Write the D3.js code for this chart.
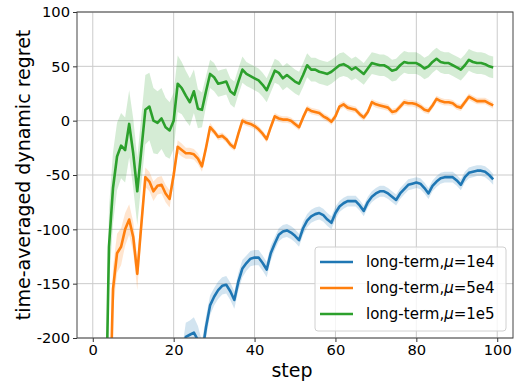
<!DOCTYPE html>
<html>
<head>
<meta charset="utf-8">
<script src="https://cdn.jsdelivr.net/npm/d3@7"></script>
<style>
body{margin:0;background:#fff;}
svg{font-family:"DejaVu Sans",sans-serif;}
</style>
</head>
<body>
<svg id="chart" width="516" height="386"></svg>
<script>
// steps 1..99
const steps=d3.range(1,100);
const labels=["long-term,μ=1e4","long-term,μ=5e4","long-term,μ=1e5"];
const colors=["#1f77b4","#ff7f0e","#2ca02c"];
const xTicks=[0,20,40,60,80,100];
const yTicks=[100,50,0,-50,-100,-150,-200];

const blueMean=[-5000,-2600,-1800,-1400,-1150,-980,-850,-750,-670,-600,
 -540,-490,-450,-410,-380,-350,-320,-300,-280,-262,
 -245,-225,-199,-197,-195,-202,-215,-190,-170,-162,
 -156,-152,-151,-157,-165,-148,-136,-131,-127,-126,
 -126,-131,-137,-122,-113,-105,-102,-101,-103,-106,
 -110,-99,-92,-88,-86,-85,-87,-91,-94,-85,
 -79,-76,-74,-74,-74,-78,-83,-75,-70,-67,
 -65,-65,-67,-70,-73,-67,-63,-59,-58,-57,
 -58,-62,-67,-60,-56,-53,-52,-52,-52,-55,
 -59,-52,-48,-47,-46,-46,-47,-50,-54];
const blueBand=[40,40,40,40,40,40,40,40,40,40,
 30,30,30,30,25,25,20,20,16,15,
 14,13,13,13,14,13,12,10,9,8,
 8,8,8,8,8,8,8,7,7,7,
 7,7,7,7,6,6,6,6,6,6,
 6,6,6,6,6,6,6,6,6,6,
 5,5,5,5,5,5,5,5,5,5,
 5,5,5,5,5,5,5,5,5,5,
 5,5,5,5,5,5,5,5,5,5,
 5,5,5,5,5,5,5,5,5];

const orangeMean=[-5000,-2000,-800,-305,-155,-122,-116,-100,-91,-107,
 -141,-96,-52,-56,-65,-60,-59,-67,-72,-50,
 -24,-27,-30,-30,-31,-35,-42,-25,-6,-10,
 -15,-14,-17,-22,-25,-12,0,-2,-3,-5,
 -8,-12,-17,-6,4,2,1,1,0,-3,
 -6,3,11,9,8,7,4,2,-1,4,
 13,15,12,11,10,6,3,8,17,15,
 14,13,12,8,9,13,17,16,16,15,
 13,10,9,14,20,18,17,17,16,13,
 12,17,22,20,18,18,18,16,14];
const orangeBand=[20,20,20,20,20,18,17,15,14,14,
 15,12,9,9,9,8,8,8,8,7,
 6,6,5,5,5,5,5,4,4,3,
 3,3,3,3,3,3,3,3,3,3,
 3,3,3,3,3,3,3,3,3,3,
 3,3,3,3,3,3,3,3,3,3,
 3,3,3,3,3,3,3,3,3,3,
 3,3,3,3,3,3,3,3,3,3,
 3,3,3,3,3,3,3,3,3,3,
 3,3,3,3,3,3,3,3,3];

const greenMean=[-2500,-1000,-326,-116,-62,-33,-23,-27,-3,-30,
 -65,-27,10,13,0,-2,2,-6,-9,0,
 34,30,23,17,27,11,10,27,43,40,
 34,35,36,27,24,36,47,43,41,39,
 37,33,28,37,46,44,39,42,39,36,
 34,42,51,47,47,45,44,43,45,48,
 51,52,50,47,49,46,43,48,53,52,
 51,51,49,46,47,51,54,53,53,53,
 51,48,50,54,57,54,53,53,51,49,
 47,51,56,54,53,53,52,50,49];
const greenBand=[40,40,40,35,33,31,30,30,31,32,
 31,31,32,31,30,29,28,27,26,26,
 26,24,23,22,20,18,16,14,13,13,
 12,12,12,12,12,12,12,11,11,11,
 11,11,11,11,11,11,11,11,11,11,
 11,11,11,11,11,11,11,11,11,11,
 11,11,10,10,10,10,10,10,10,10,
 10,10,10,10,10,10,10,10,10,10,
 10,10,10,10,10,10,10,10,10,10,
 10,10,10,10,10,10,10,10,10];

const series=[
  {mean:blueMean,band:blueBand},
  {mean:orangeMean,band:orangeBand},
  {mean:greenMean,band:greenBand}
];

const svg=d3.select("#chart");
const margin={top:12,right:3,bottom:48,left:77};
const width=+svg.attr("width")-margin.left-margin.right;
const height=+svg.attr("height")-margin.top-margin.bottom;
const g=svg.append("g").attr("transform",`translate(${margin.left},${margin.top})`);

const x=d3.scaleLinear().domain([-3.9,103.9]).range([0,width]);
const y=d3.scaleLinear().domain([-200,100]).range([height,0]);

g.append("defs").append("clipPath").attr("id","clip")
  .append("rect").attr("width",width).attr("height",height);

// grid
g.append("g").selectAll("line").data(xTicks).enter().append("line")
  .attr("x1",d=>x(d)).attr("x2",d=>x(d)).attr("y1",0).attr("y2",height)
  .attr("stroke","#cbcbcb").attr("stroke-width",1);
g.append("g").selectAll("line").data(yTicks).enter().append("line")
  .attr("x1",0).attr("x2",width).attr("y1",d=>y(d)).attr("y2",d=>y(d))
  .attr("stroke","#cbcbcb").attr("stroke-width",1);

const plot=g.append("g").attr("clip-path","url(#clip)");
series.forEach((s,i)=>{
  const pts=steps.map((st,k)=>({x:st,m:s.mean[k],e:s.band[k]}));
  const area=d3.area().x(d=>x(d.x)).y0(d=>y(d.m-d.e)).y1(d=>y(d.m+d.e));
  const line=d3.line().x(d=>x(d.x)).y(d=>y(d.m));
  plot.append("path").datum(pts).attr("d",area)
    .attr("fill",colors[i]).attr("fill-opacity",0.2).attr("stroke","none");
  plot.append("path").datum(pts).attr("d",line)
    .attr("fill","none").attr("stroke",colors[i]).attr("stroke-width",2.6)
    .attr("stroke-linejoin","round");
});

// axes
const xAxis=g.append("g").attr("transform",`translate(0,${height})`)
  .call(d3.axisBottom(x).tickValues(xTicks).tickSize(4).tickPadding(3).tickSizeOuter(0));
const yAxis=g.append("g")
  .call(d3.axisLeft(y).tickValues(yTicks).tickFormat(d=>d<0?"-"+Math.abs(d):d).tickSize(4).tickPadding(3).tickSizeOuter(0));
[xAxis,yAxis].forEach(a=>{
  a.select(".domain").remove();
  a.selectAll("text").attr("font-size","14.7px").attr("fill","#000")
    .attr("font-family","DejaVu Sans");
  a.selectAll(".tick line").attr("stroke","#333");
});

g.append("rect").attr("width",width).attr("height",height)
  .attr("fill","none").attr("stroke","#444").attr("stroke-width",1);

svg.append("text").attr("x",margin.left+width/2-3).attr("y",377)
  .attr("text-anchor","middle").attr("font-size","19px").text("step");
svg.append("text").attr("transform",`translate(30,${margin.top+height/2}) rotate(-90)`)
  .attr("text-anchor","middle").attr("font-size","19px").text("time-averaged dynamic regret");

// legend
const lg=svg.append("g").attr("transform","translate(315,247)");
lg.append("rect").attr("width",191).attr("height",84).attr("rx",3)
  .attr("fill","#fff").attr("fill-opacity",0.8).attr("stroke","#d0d0d0");
labels.forEach((lab,i)=>{
  const yy=15+i*26;
  lg.append("line").attr("x1",5).attr("x2",38).attr("y1",yy).attr("y2",yy)
    .attr("stroke",colors[i]).attr("stroke-width",2.6);
  const parts=lab.split("μ");
  const t=lg.append("text").attr("x",51).attr("y",yy).attr("dy","0.36em")
    .attr("font-size","15px").attr("fill","#000");
  t.append("tspan").text(parts[0]);
  t.append("tspan").attr("font-style","italic").text("μ");
  t.append("tspan").text(parts[1]);
});
</script>
</body>
</html>
